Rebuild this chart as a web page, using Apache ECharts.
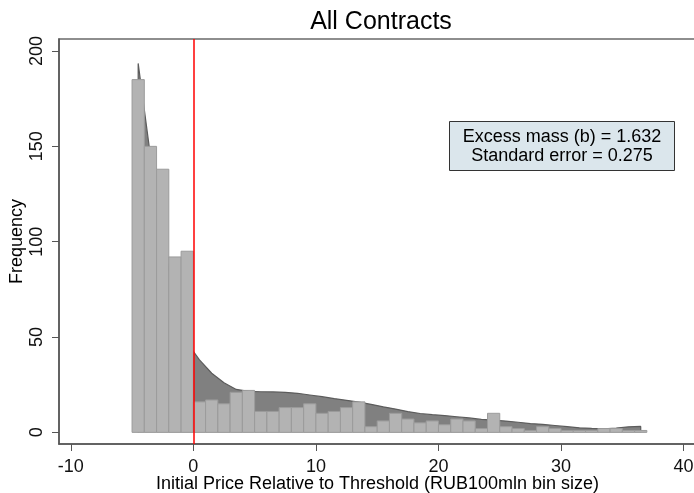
<!DOCTYPE html>
<html>
<head>
<meta charset="utf-8">
<script src="https://cdn.jsdelivr.net/npm/echarts@6/dist/echarts.min.js"></script>
<style>html,body{margin:0;padding:0;background:#fff;}#chart{width:694px;height:493px;}</style>
</head>
<body>
<div id="chart"></div>
<script>
// Histogram bins (left edges, width 1) and observed counts
const binLeft = [-5,-4,-3,-2,-1,0,1,2,3,4,5,6,7,8,9,10,11,12,13,14,15,16,17,18,19,20,21,22,23,24,25,26,27,28,29,30,31,32,33,34,35,36];
const binWidth = 1;
const counts = [185,150,138,92,95,16,17,15,21,22,11,11,13,13,15,10,11,13,16,3,6,10,7,5,6,4,7,6,2,10,3,2,1,3,2,1,1,1,2,2,1,1];
// Counterfactual density at bin midpoints
const cfMid = [-4.5,-3.5,-2.5,-1.5,-0.5,0.5,1.5,2.5,3.5,4.5,5.5,6.5,7.5,8.5,9.5,10.5,11.5,12.5,13.5,14.5,15.5,16.5,17.5,18.5,19.5,20.5,21.5,22.5,23.5,24.5,25.5,26.5,27.5,28.5,29.5,30.5,31.5,32.5,33.5,34.5,35.5,36.5];
const cfVal = [193.5,145,100,72,47,38,31,26,22.5,21.5,21.3,21.2,21,20.5,19.6,18.7,17.7,16.8,15.9,14.7,13.4,12.2,10.9,9.9,9.3,8.8,8.2,7.6,6.8,6.4,5.9,5.3,4.6,4.2,3.6,3.0,2.4,2.1,1.9,2.3,2.9,3.1];
const threshold = 0;
// Tick labels
const xTicks = [-10,0,10,20,30,40];
const yTicks = [0,50,100,150,200];
const titleText = 'All Contracts';
const xName = 'Initial Price Relative to Threshold (RUB100mln bin size)';
const yName = 'Frequency';
const noteLines = ['Excess mass (b) = 1.632', 'Standard error = 0.275'];

const FONT = '"Liberation Sans", Arial, sans-serif';
const chart = echarts.init(document.getElementById('chart'), null, {renderer: 'canvas'});

const cfData = [[cfMid[0], 0]].concat(cfMid.map((x, i) => [x, cfVal[i]])).concat([[cfMid[cfMid.length - 1], 0]]);
const barData = binLeft.map((b, i) => [b, b + binWidth, counts[i]]);

chart.setOption({
  animation: false,
  backgroundColor: '#ffffff',
  title: {
    text: titleText, left: 376, top: 5, textAlign: 'center',
    textStyle: {fontFamily: FONT, fontSize: 25, fontWeight: 'normal', color: '#000'}
  },
  grid: {left: 59, right: -2, top: 39, bottom: 49, show: true, borderColor: '#6a6a6a', borderWidth: 1.5,
    backgroundColor: 'transparent', containLabel: false, outerBoundsMode: 'none'},
  xAxis: {
    type: 'value', min: -10.96, max: 41.01,
    name: xName, nameLocation: 'middle', nameGap: 31, nameMoveOverlap: false,
    nameTextStyle: {fontFamily: FONT, fontSize: 18, color: '#000'},
    axisLine: {show: true, onZero: false, lineStyle: {color: '#555', width: 1.5}},
    axisTick: {show: true, length: 7, customValues: xTicks, lineStyle: {color: '#555', width: 1}},
    axisLabel: {customValues: xTicks, fontFamily: FONT, fontSize: 18, color: '#111', margin: 14},
    splitLine: {show: false}
  },
  yAxis: {
    type: 'value', min: -6.1, max: 206.3,
    name: yName, nameLocation: 'middle', nameGap: 33, nameRotate: 90, nameMoveOverlap: false,
    nameTextStyle: {fontFamily: FONT, fontSize: 18, color: '#000'},
    axisLine: {show: true, onZero: false, lineStyle: {color: '#555', width: 1.5}},
    axisTick: {show: true, length: 7, customValues: yTicks, lineStyle: {color: '#555', width: 1}},
    axisLabel: {customValues: yTicks, rotate: 90, fontFamily: FONT, fontSize: 18, color: '#111', margin: 13},
    splitLine: {show: false}
  },
  series: [
    {
      type: 'line', data: cfData, showSymbol: false, z: 1,
      lineStyle: {color: '#5c5c5c', width: 1.2},
      areaStyle: {color: '#808080', opacity: 1},
      silent: true
    },
    {
      type: 'custom', data: barData, z: 2,
      encode: {x: [0, 1], y: 2},
      renderItem: function (params, api) {
        const p0 = api.coord([api.value(0), api.value(2)]);
        const p1 = api.coord([api.value(1), 0]);
        return {type: 'rect', shape: {x: p0[0], y: p0[1], width: p1[0] - p0[0], height: p1[1] - p0[1]},
          style: {fill: '#b3b3b3', stroke: '#9b9b9b', lineWidth: 1}};
      },
      silent: true
    },
    {
      type: 'line', data: [], z: 3,
      markLine: {symbol: 'none', silent: true, animation: false, label: {show: false},
        lineStyle: {color: '#ff0000', width: 1.5, type: 'solid'}, data: [{xAxis: threshold}]}
    }
  ],
  graphic: [
    {
      type: 'group', left: 449, top: 121,
      children: [
        {type: 'rect', shape: {x: 0, y: 0, width: 225, height: 49}, style: {fill: '#dbe6ec', stroke: '#333', lineWidth: 1}},
        {type: 'text', x: 112.5, y: 15.5, style: {text: noteLines[0], font: '18px ' + FONT, fill: '#000', textAlign: 'center', textVerticalAlign: 'middle'}},
        {type: 'text', x: 112.5, y: 34.5, style: {text: noteLines[1], font: '18px ' + FONT, fill: '#000', textAlign: 'center', textVerticalAlign: 'middle'}}
      ]
    }
  ]
});
</script>
</body>
</html>
